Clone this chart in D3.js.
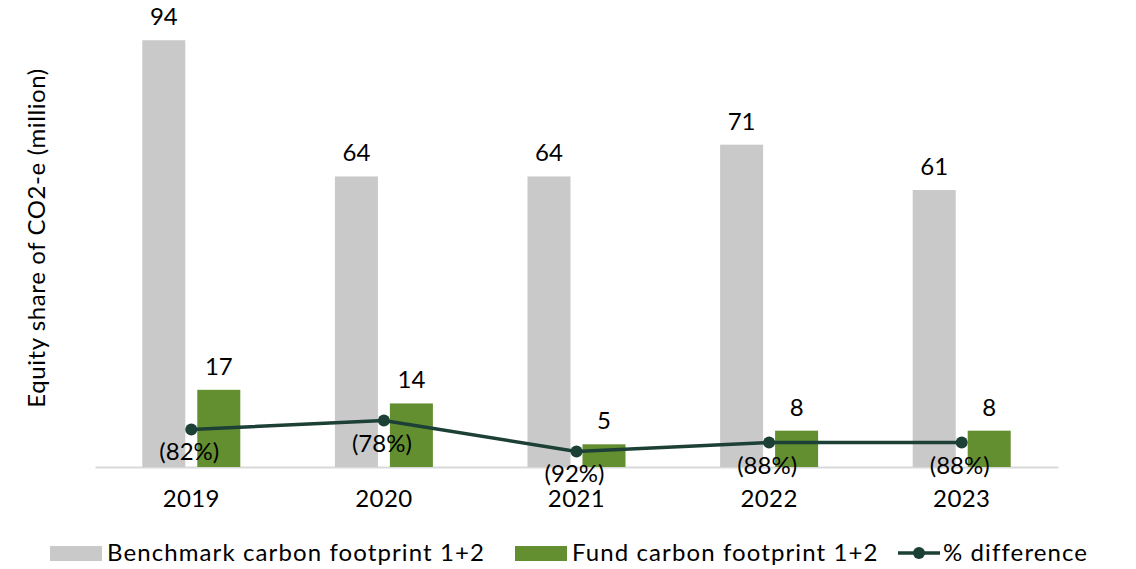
<!DOCTYPE html>
<html><head><meta charset="utf-8">
<script src="https://cdn.jsdelivr.net/npm/d3@7"></script>
<style>
html,body{margin:0;padding:0;background:#fff;}
svg{display:block;font-family:Lato, "Open Sans", sans-serif;}
</style></head>
<body><svg id="c" width="1136" height="569"></svg>
<script>
const years = ["2019","2020","2021","2022","2023"];
const benchmark = [94, 64, 64, 71, 61];
const fund = [17, 14, 5, 8, 8];
const pctDiff = [-82, -78, -92, -88, -88];
const pctLabels = ["(82%)","(78%)","(92%)","(88%)","(88%)"];
const seriesNames = ["Benchmark carbon footprint 1+2","Fund carbon footprint 1+2","% difference"];
const yTitle = "Equity share of CO2-e (million)";

const colGray = "#c9c9c9", colGreen = "#638f31", colLine = "#1c3f36";
const FS = 24;
const svg = d3.select("#c");
const baseY = 467;
const x0 = d3.scaleBand().domain(years).range([95, 1058]);
const x1 = d3.scaleBand().domain(["b","f"]).range([-49, 49]).paddingInner(0.218);
const y = d3.scaleLinear().domain([0, 100]).range([baseY, 13]);
const y2 = d3.scaleLinear().domain([-100, 0]).range([baseY + 2, 249]);
const cx = d => x0(d) + x0.bandwidth()/2;

const xAxis = d3.axisBottom(x0).tickSize(0).tickPadding(23);
const gx = svg.append("g").attr("transform", `translate(0,${baseY})`).call(xAxis);
gx.select(".domain").attr("stroke", "#d9d9d9").attr("stroke-width", 2);
gx.selectAll("text").attr("font-size", FS).attr("fill", "#000").attr("font-family","Lato").attr("letter-spacing", 0.4);

const data = years.map((yr,i)=>({yr, b: benchmark[i], f: fund[i], p: pctDiff[i], pl: pctLabels[i]}));

svg.selectAll(".bb").data(data).enter().append("rect")
  .attr("x", d => cx(d.yr) + x1("b")).attr("width", x1.bandwidth())
  .attr("y", d => y(d.b)).attr("height", d => baseY - y(d.b)).attr("fill", colGray);
svg.selectAll(".fb").data(data).enter().append("rect")
  .attr("x", d => cx(d.yr) + x1("f")).attr("width", x1.bandwidth())
  .attr("y", d => y(d.f)).attr("height", d => baseY - y(d.f)).attr("fill", colGreen);

svg.selectAll(".bl").data(data).enter().append("text")
  .attr("x", d => cx(d.yr) + x1("b") + x1.bandwidth()/2).attr("y", d => y(d.b) - 15)
  .attr("text-anchor","middle").attr("font-size",FS).text(d => d.b);
svg.selectAll(".fl").data(data).enter().append("text")
  .attr("x", d => cx(d.yr) + x1("f") + x1.bandwidth()/2).attr("y", d => y(d.f) - 15)
  .attr("text-anchor","middle").attr("font-size",FS).text(d => d.f);

const line = d3.line().x(d => cx(d.yr)).y(d => y2(d.p));
svg.append("path").datum(data).attr("d", line).attr("fill","none")
  .attr("stroke", colLine).attr("stroke-width", 3.5);
svg.selectAll(".pt").data(data).enter().append("circle")
  .attr("cx", d => cx(d.yr)).attr("cy", d => y2(d.p)).attr("r", 6).attr("fill", colLine);
svg.selectAll(".pl").data(data).enter().append("text")
  .attr("x", d => cx(d.yr) - 2).attr("y", d => y2(d.p) + 31)
  .attr("text-anchor","middle").attr("font-size",FS).text(d => d.pl);

svg.append("text").attr("transform", "translate(45,238) rotate(-90)")
  .attr("text-anchor","middle").attr("font-size",FS).attr("letter-spacing", 0.6).text(yTitle);

const lg = svg.append("g").attr("transform","translate(0,553)").attr("letter-spacing", 1.1);
lg.append("rect").attr("x",50).attr("y",-7).attr("width",52).attr("height",15).attr("fill",colGray);
lg.append("text").attr("x",107).attr("y",8).attr("font-size",FS).text(seriesNames[0]);
lg.append("rect").attr("x",515).attr("y",-7).attr("width",52).attr("height",15).attr("fill",colGreen);
lg.append("text").attr("x",572).attr("y",8).attr("font-size",FS).text(seriesNames[1]);
lg.append("line").attr("x1",898).attr("x2",940).attr("y1",0).attr("y2",0).attr("stroke",colLine).attr("stroke-width",3.5);
lg.append("circle").attr("cx",919).attr("cy",0).attr("r",6).attr("fill",colLine);
lg.append("text").attr("x",943).attr("y",8).attr("font-size",FS).text(seriesNames[2]);
</script></body></html>
